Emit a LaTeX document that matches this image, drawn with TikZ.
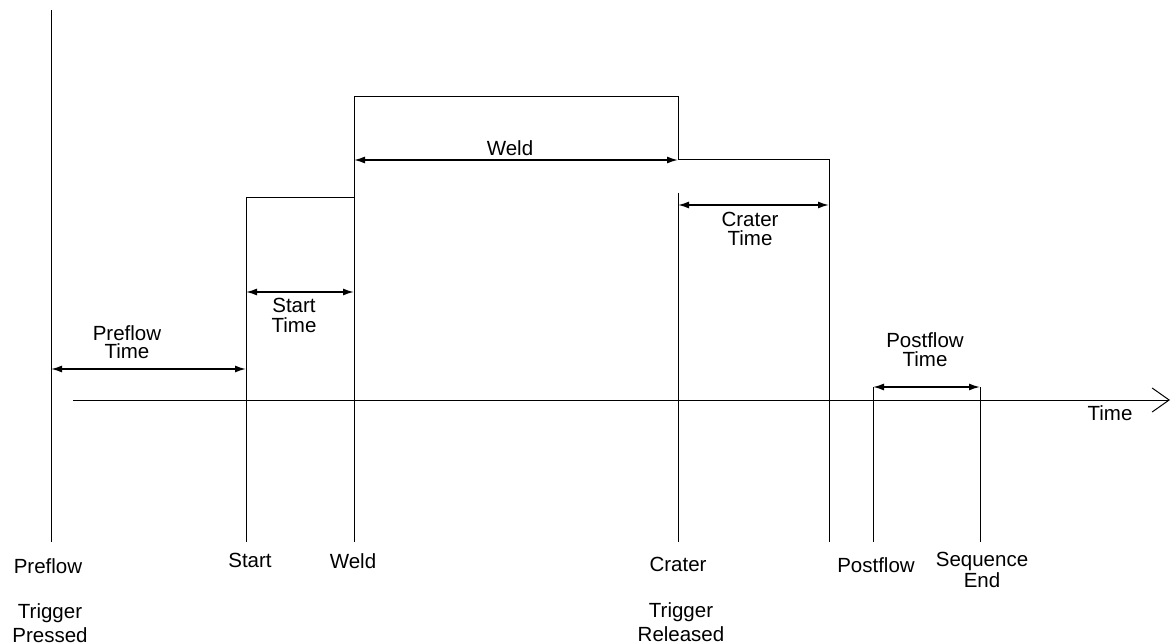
\documentclass[tikz,border=0pt]{standalone}
\usepackage{fontspec}
\setmainfont{Liberation Sans}
\usetikzlibrary{arrows.meta}
\begin{document}
\begin{tikzpicture}[x=1pt,y=-1pt,
  thin line/.style={line width=1pt},
  dim/.style={line width=1.5pt,{Latex[length=11pt,width=7pt]}-{Latex[length=11pt,width=7pt]}},
  lbl/.style={anchor=north,inner sep=0pt,align=center,font=\fontsize{20.5}{19}\selectfont},
  lead/.style={font=\fontsize{20.5}{#1}\selectfont}]
\useasboundingbox (0,0) rectangle (1172,644);
% signal outline points
\coordinate (pT) at (51,10);   \coordinate (pB) at (51,542);
\coordinate (sT) at (246,198); \coordinate (sB) at (246,542);
\coordinate (sE) at (354,198);
\coordinate (wT) at (354,97);  \coordinate (wB) at (354,542);
\coordinate (wE) at (678,97);  \coordinate (wR) at (678,160);
\coordinate (cT) at (678,193); \coordinate (cB) at (678,542);
\coordinate (cR) at (829,160); \coordinate (cRB) at (829,542);
\coordinate (pfT) at (873,387); \coordinate (pfB) at (873,542);
\coordinate (seT) at (980,387); \coordinate (seB) at (980,542);
\coordinate (ax0) at (73,400); \coordinate (ax1) at (1170,400);
% dimension end points
\coordinate (d1a) at (51,369);  \coordinate (d1b) at (246,369);
\coordinate (d2a) at (246,292); \coordinate (d2b) at (354,292);
\coordinate (d3a) at (354,160); \coordinate (d3b) at (678,160);
\coordinate (d4a) at (678,205); \coordinate (d4b) at (829,205);
\coordinate (d5a) at (873,387); \coordinate (d5b) at (980,387);

\draw[thin line] (pT) -- (pB);
\draw[thin line] (sB) -- (sT) -- (sE);
\draw[thin line] (wB) -- (wT) -- (wE) -- (wR) -- (cR) -- (cRB);
\draw[thin line] (cT) -- (cB);
\draw[thin line] (pfT) -- (pfB);
\draw[thin line] (seT) -- (seB);
\draw[thin line,-{Straight Barb[length=17pt,width=24pt]}] (ax0) -- (ax1);

\draw[dim] (d1a) -- (d1b);
\draw[dim] (d2a) -- (d2b);
\draw[dim] (d3a) -- (d3b);
\draw[dim] (d4a) -- (d4b);
\draw[dim] (d5a) -- (d5b);

% labels
\node[lbl,lead=18.5] (tPre) at (127,325) {Preflow\\Time};
\node[lbl,lead=20] (tStart) at (294,298) {Start\\Time};
\node[lbl] (tWeld) at (510,140) {Weld};
\node[lbl,lead=19] (tCrater) at (750,212) {Crater\\Time};
\node[lbl,lead=19] (tPost) at (925,332) {Postflow\\Time};
\node[lbl] (tAxis) at (1110,405) {Time};

\node[lbl] (bPre) at (48,558) {Preflow};
\node[lbl,lead=24] (bTrigP) at (50,603) {Trigger\\Pressed};
\node[lbl] (bStart) at (250,553) {Start};
\node[lbl] (bWeld) at (353,553) {Weld};
\node[lbl] (bCrater) at (678,557) {Crater};
\node[lbl,lead=24] (bTrigR) at (681,602) {Trigger\\Released};
\node[lbl] (bPost) at (876,557) {Postflow};
\node[lbl,lead=21] (bSeq) at (982,552) {Sequence\\End};
\end{tikzpicture}
\end{document}
